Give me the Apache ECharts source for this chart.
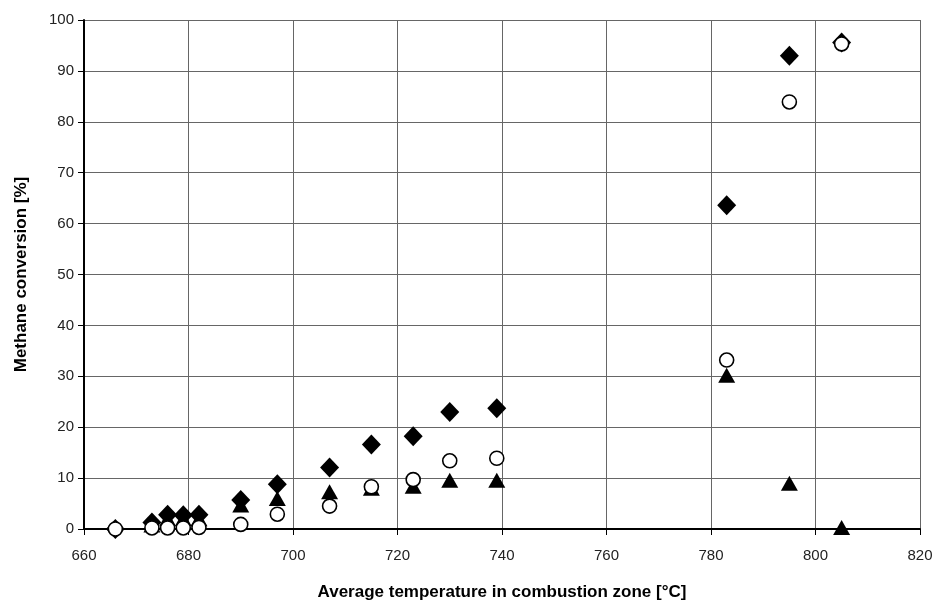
<!DOCTYPE html>
<html lang="en">
<head>
    <meta charset="utf-8">
    <title>Methane conversion</title>
    <script src="https://cdn.jsdelivr.net/npm/echarts@6/dist/echarts.min.js"></script>
    <style>
        html, body { margin: 0; padding: 0; background: #fff; }
        #chart { width: 936px; height: 606px; }
    </style>
</head>
<body>
<div id="chart"></div>
<script>
    // values: [temperature, conversion]
    var diamonds = [
        [666, 0], [673, 1.3], [676, 2.8], [679, 2.7], [682, 2.8], [690, 5.7], [697, 8.8],
        [707, 12.1], [715, 16.6], [723, 18.2], [730, 23.0], [739, 23.7],
        [783, 63.6], [795, 93.0], [805, 95.6]
    ];
    var triangles = [
        [666, -0.2], [673, 0.8], [676, 2.0], [679, 2.0], [682, 2.0], [690, 4.7], [697, 6.0],
        [707, 7.3], [715, 8.0], [723, 8.4], [730, 9.6], [739, 9.6],
        [783, 30.2], [795, 9.0], [805, 0.3]
    ];
    var circles = [
        [666, 0], [673, 0.2], [676, 0.2], [679, 0.2], [682, 0.3], [690, 0.9], [697, 2.9],
        [707, 4.5], [715, 8.3], [723, 9.7], [730, 13.4], [739, 13.9],
        [783, 33.2], [795, 83.9], [805, 95.3]
    ];

    var xMin = 660, xMax = 820, xStep = 20;
    var yMin = 0, yMax = 100, yStep = 10;

    var myChart = echarts.init(document.getElementById('chart'));

    var labelFont = {
        color: '#222',
        fontFamily: 'Liberation Sans, Arial, sans-serif',
        fontSize: 15
    };
    var nameFont = {
        color: '#000', fontWeight: 'bold', fontSize: 17,
        fontFamily: 'Liberation Sans, Arial, sans-serif'
    };

    var option = {
        backgroundColor: '#fff',
        animation: false,
        grid: { left: 84, right: 16, top: 20, bottom: 77, outerBoundsMode: 'none' },
        xAxis: {
            type: 'value',
            min: xMin, max: xMax, interval: xStep,
            name: 'Average temperature in combustion zone [°C]',
            nameLocation: 'middle',
            nameGap: 55,
            nameTextStyle: nameFont,
            axisLine: { onZero: false, lineStyle: { color: '#000', width: 2 } },
            axisTick: { show: true, inside: false, length: 6, lineStyle: { color: '#000' } },
            axisLabel: Object.assign({ margin: 19 }, labelFont),
            splitLine: { show: true, lineStyle: { color: '#666', width: 1 } }
        },
        yAxis: {
            type: 'value',
            min: yMin, max: yMax, interval: yStep,
            name: 'Methane conversion [%]',
            nameLocation: 'middle',
            nameGap: 54,
            nameTextStyle: nameFont,
            axisLine: { show: true, lineStyle: { color: '#000', width: 2 } },
            axisTick: { show: true, inside: false, length: 6, lineStyle: { color: '#000' } },
            axisLabel: Object.assign({ margin: 10 }, labelFont),
            splitLine: { show: true, lineStyle: { color: '#666', width: 1 } }
        },
        series: [
            {
                type: 'scatter',
                data: diamonds,
                symbol: 'diamond',
                symbolSize: [19, 20],
                itemStyle: { color: '#000', opacity: 1 },
                z: 2
            },
            {
                type: 'scatter',
                data: triangles,
                symbol: 'triangle',
                symbolSize: [17, 15],
                itemStyle: { color: '#000', opacity: 1 },
                z: 3
            },
            {
                type: 'scatter',
                data: circles,
                symbol: 'circle',
                symbolSize: 14,
                itemStyle: { color: '#fff', borderColor: '#000', borderWidth: 1.6, opacity: 1 },
                z: 4
            }
        ]
    };

    myChart.setOption(option);
</script>
</body>
</html>
